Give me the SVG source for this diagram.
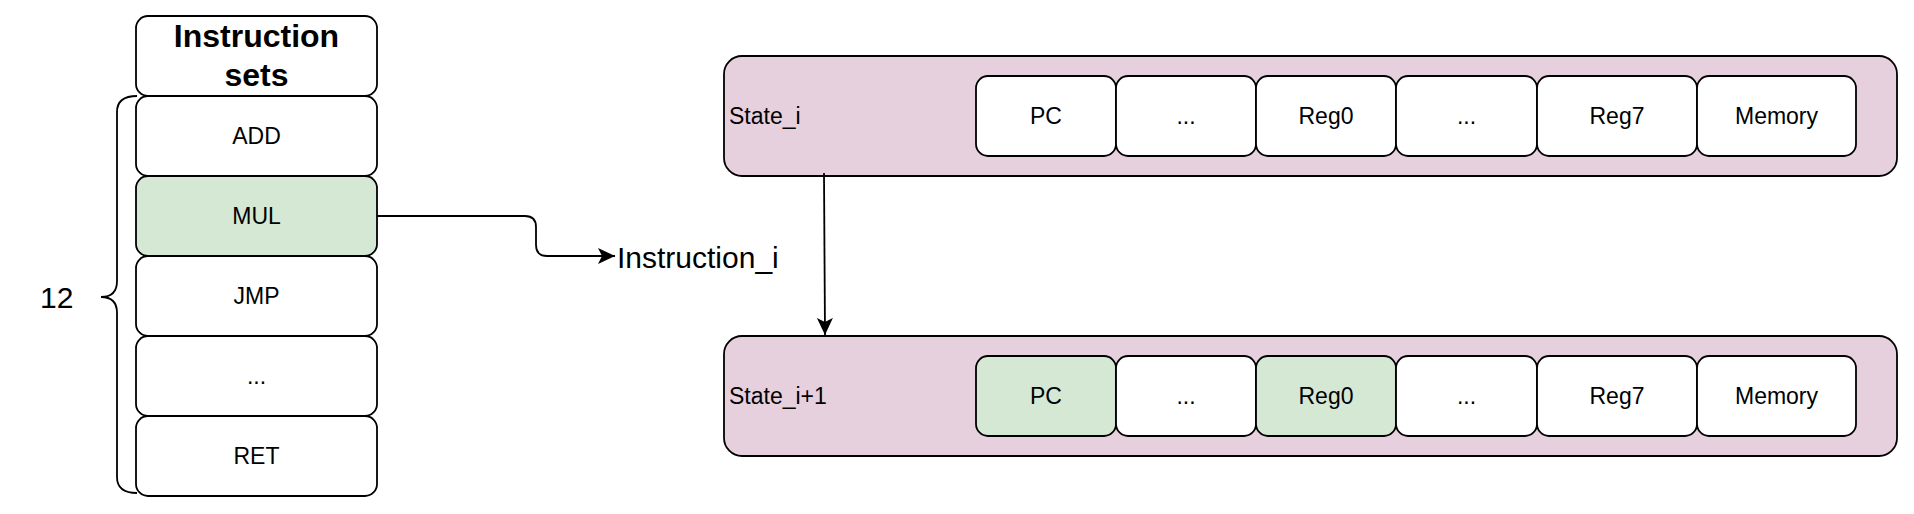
<svg xmlns="http://www.w3.org/2000/svg" width="1914" height="514" viewBox="0 0 1914 514">
<style>
  .box{fill:#ffffff;stroke:#000000;stroke-width:1.8}
  .green{fill:#d5e8d4}
  .cont{fill:#e6d0de;stroke:#000000;stroke-width:1.8}
  .lbl{font-family:"Liberation Sans",Arial,Helvetica,sans-serif;font-size:23px;fill:#000000}
  .c{text-anchor:middle}
  .big{font-family:"Liberation Sans",Arial,Helvetica,sans-serif;font-size:30px;fill:#000000}
  .bold{font-weight:bold;font-size:32px}
  .edge{fill:none;stroke:#000000;stroke-width:1.8}
</style>
<defs>
  <marker id="arrow" markerUnits="userSpaceOnUse" markerWidth="18" markerHeight="18" refX="17" refY="8" orient="auto" viewBox="0 0 18 16">
    <path d="M0,0 L17,8 L0,16 L4,8 Z" fill="#000000"/>
  </marker>
</defs>

<rect width="1914" height="514" fill="#ffffff"/>

<!-- Instruction set column -->
<g id="instruction-sets">
  <rect class="box" x="136" y="16" width="241" height="80" rx="12"/>
  <text class="big bold c" x="256.5" y="47">Instruction</text>
  <text class="big bold c" x="256.5" y="86">sets</text>
</g>
<g id="add">
  <rect class="box" x="136" y="96" width="241" height="80" rx="12"/>
  <text class="lbl c" x="256.5" y="144">ADD</text>
</g>
<g id="mul">
  <rect class="box green" x="136" y="176" width="241" height="80" rx="12"/>
  <text class="lbl c" x="256.5" y="224">MUL</text>
</g>
<g id="jmp">
  <rect class="box" x="136" y="256" width="241" height="80" rx="12"/>
  <text class="lbl c" x="256.5" y="304">JMP</text>
</g>
<g id="ellipsis-instr">
  <rect class="box" x="136" y="336" width="241" height="80" rx="12"/>
  <text class="lbl c" x="256.5" y="384">...</text>
</g>
<g id="ret">
  <rect class="box" x="136" y="416" width="241" height="80" rx="12"/>
  <text class="lbl c" x="256.5" y="464">RET</text>
</g>

<!-- brace and count -->
<g id="brace">
  <path class="edge" d="M137,96 Q117,96 117,112 V281 Q117,297 101,297 Q117,297 117,313 V477 Q117,493 137,493"/>
  <text class="lbl" x="40" y="308" style="font-size:30px">12</text>
</g>

<!-- Instruction_i label -->
<g id="instruction-i">
  <text class="big" x="617" y="268">Instruction_i</text>
</g>

<!-- State_i -->
<g id="state-i">
  <rect class="cont" x="724" y="56" width="1173" height="120" rx="18"/>
  <text class="lbl" x="729" y="124">State_i</text>
  <rect class="box" x="976" y="76" width="140" height="80" rx="12"/>
  <text class="lbl c" x="1046" y="124">PC</text>
  <rect class="box" x="1116" y="76" width="140" height="80" rx="12"/>
  <text class="lbl c" x="1186" y="124">...</text>
  <rect class="box" x="1256" y="76" width="140" height="80" rx="12"/>
  <text class="lbl c" x="1326" y="124">Reg0</text>
  <rect class="box" x="1396" y="76" width="141" height="80" rx="12"/>
  <text class="lbl c" x="1466.5" y="124">...</text>
  <rect class="box" x="1537" y="76" width="160" height="80" rx="12"/>
  <text class="lbl c" x="1617" y="124">Reg7</text>
  <rect class="box" x="1697" y="76" width="159" height="80" rx="12"/>
  <text class="lbl c" x="1776.5" y="124">Memory</text>
</g>

<!-- State_i+1 -->
<g id="state-i1">
  <rect class="cont" x="724" y="336" width="1173" height="120" rx="18"/>
  <text class="lbl" x="729" y="404">State_i+1</text>
  <rect class="box green" x="976" y="356" width="140" height="80" rx="12"/>
  <text class="lbl c" x="1046" y="404">PC</text>
  <rect class="box" x="1116" y="356" width="140" height="80" rx="12"/>
  <text class="lbl c" x="1186" y="404">...</text>
  <rect class="box green" x="1256" y="356" width="140" height="80" rx="12"/>
  <text class="lbl c" x="1326" y="404">Reg0</text>
  <rect class="box" x="1396" y="356" width="141" height="80" rx="12"/>
  <text class="lbl c" x="1466.5" y="404">...</text>
  <rect class="box" x="1537" y="356" width="160" height="80" rx="12"/>
  <text class="lbl c" x="1617" y="404">Reg7</text>
  <rect class="box" x="1697" y="356" width="159" height="80" rx="12"/>
  <text class="lbl c" x="1776.5" y="404">Memory</text>
</g>

<!-- connectors -->
<g id="connectors">
  <path class="edge" d="M377,216 H525 Q536,216 536,227 V245 Q536,256 547,256 H615" marker-end="url(#arrow)"/>
  <path class="edge" d="M824,173 L825,335" marker-end="url(#arrow)"/>
</g>
</svg>
